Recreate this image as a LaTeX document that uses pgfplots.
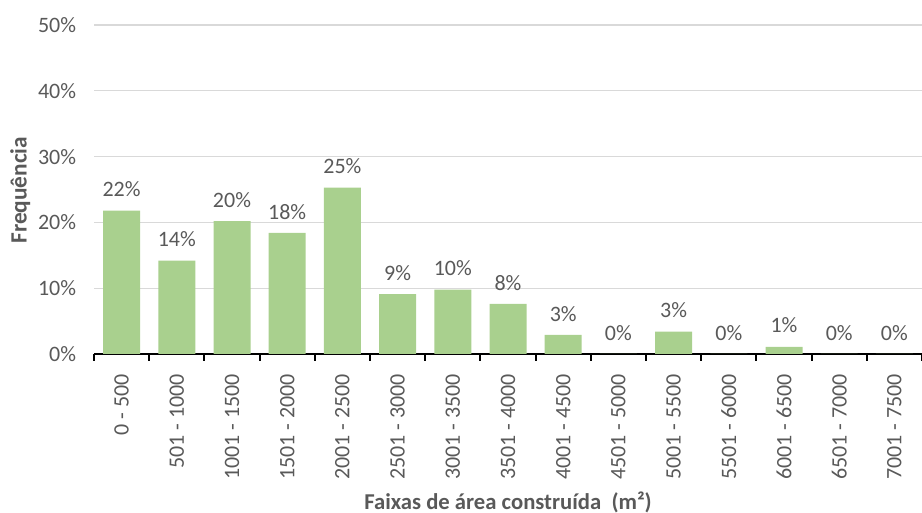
\documentclass[border=0pt]{standalone}
\usepackage{pgfplots}
\pgfplotsset{compat=1.18}
\usepackage{fontspec}
\setmainfont{Carlito}
\definecolor{bargreen}{HTML}{A9D08E}
\definecolor{txtgray}{HTML}{595959}
\definecolor{gridgray}{HTML}{D9D9D9}
\begin{document}
\begin{tikzpicture}
\path[use as bounding box] (0,0) rectangle (691.5pt,384.75pt);
\begin{axis}[
  at={(70.5pt,119.25pt)}, anchor=south west,
  scale only axis, width=621pt, height=246.75pt,
  xmin=-0.5, xmax=14.5, ymin=0, ymax=50,
  ybar, bar width=27.75pt,
  axis x line*=bottom, axis y line*=left,
  x axis line style={black, line width=1.5pt, -},
  y axis line style={draw=none},
  xtick={0,...,14},
  xticklabels={0 - 500,501 - 1000,1001 - 1500,1501 - 2000,2001 - 2500,2501 - 3000,3001 - 3500,3501 - 4000,4001 - 4500,4501 - 5000,5001 - 5500,5501 - 6000,6001 - 6500,6501 - 7000,7001 - 7500},
  major x tick style={draw=none},
  minor xtick={-0.5,0.5,...,14.5},
  minor x tick style={black, line width=1.5pt},
  minor tick length=5pt,
  tick align=outside,
  xticklabel style={rotate=90, anchor=east, inner sep=0pt, font=\fontsize{16.5}{20}\selectfont, text=txtgray},
  xticklabel shift=10.5pt,
  ytick={0,10,...,50},
  yticklabel={\pgfmathprintnumber{\tick}\%},
  yticklabel style={anchor=east, inner sep=0pt, font=\fontsize{16.5}{20}\selectfont, text=txtgray},
  major y tick style={draw=none},
  yticklabel shift=9pt,
  /pgf/number format/assume math mode=true,
  ymajorgrids, grid style={gridgray, line width=0.8pt},
  xlabel={Faixas de área construída\ \ (m²)},
  xlabel style={at={(axis description cs:0.5,-0.45)}, anchor=center, font=\bfseries\fontsize{17}{20}\selectfont, text=txtgray},
  ylabel={Frequência},
  ylabel style={at={(axis description cs:-0.089,0.498)}, anchor=center, font=\bfseries\fontsize{17.5}{20}\selectfont, text=txtgray},
  point meta=explicit symbolic,
  nodes near coords={\pgfplotspointmeta\%},
  every node near coord/.append style={anchor=south, inner sep=0pt, yshift=10pt, font=\fontsize{16.5}{20}\selectfont, text=txtgray},
  clip=false,
]
\addplot[fill=bargreen, draw=none] coordinates {
(0,21.8) [22]
(1,14.2) [14]
(2,20.2) [20]
(3,18.4) [18]
(4,25.3) [25]
(5,9.1) [9]
(6,9.8) [10]
(7,7.6) [8]
(8,2.9) [3]
(9,0) [0]
(10,3.4) [3]
(11,0) [0]
(12,1.1) [1]
(13,0) [0]
(14,0) [0]
};
\end{axis}
\end{tikzpicture}
\end{document}
